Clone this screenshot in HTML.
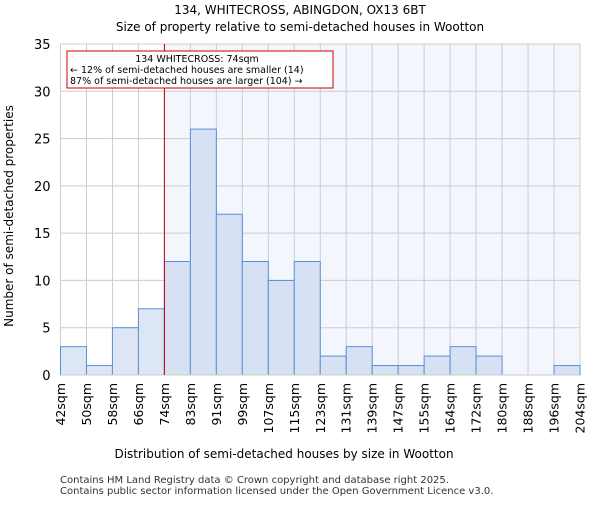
<!DOCTYPE html>
<html><head><meta charset="utf-8"><style>body{margin:0;background:#fff}svg{font-family:"DejaVu Sans","Liberation Sans",sans-serif}</style></head>
<body>
<svg id="c" width="600" height="500">
<text x="300" y="14" text-anchor="middle" font-size="12">134, WHITECROSS, ABINGDON, OX13 6BT</text>
<text x="300" y="31" text-anchor="middle" font-size="12">Size of property relative to semi-detached houses in Wootton</text>
<g id="plot"></g>
<text x="284" y="458" text-anchor="middle" font-size="12">Distribution of semi-detached houses by size in Wootton</text>
<text transform="translate(13,216) rotate(-90)" text-anchor="middle" font-size="12">Number of semi-detached properties</text>
<text x="60" y="483" font-size="10" fill="#333">Contains HM Land Registry data © Crown copyright and database right 2025.</text>
<text x="60" y="494" font-size="10" fill="#333">Contains public sector information licensed under the Open Government Licence v3.0.</text>
</svg>
<script>
const binLabels=["42sqm","50sqm","58sqm","66sqm","74sqm","83sqm","91sqm","99sqm","107sqm","115sqm","123sqm","131sqm","139sqm","147sqm","155sqm","164sqm","172sqm","180sqm","188sqm","196sqm","204sqm"];
const counts=[3,1,5,7,12,26,17,12,10,12,2,3,1,1,2,3,2,0,0,1];
const yTicks=[0,5,10,15,20,25,30,35];
const markerBin=4;
const L=60.5,R=580,T=44,B=375,yMax=35;
const NS="http://www.w3.org/2000/svg";
const g=document.getElementById('plot');
const bw=(R-L)/counts.length;
const x=i=>L+i*bw, y=v=>B-v/yMax*(B-T);
function el(t,a,txt){const e=document.createElementNS(NS,t);for(const k in a)e.setAttribute(k,a[k]);if(txt!=null)e.textContent=txt;g.appendChild(e);return e;}
let e=el('rect',{x:x(markerBin),y:T,width:R-x(markerBin),height:B-T,fill:'#f3f6fd'});


yTicks.forEach(v=>{let l=el('line',{x1:L,x2:R,y1:y(v),y2:y(v),stroke:'#ccc'});


let t=el('text',{x:L-10,y:y(v)+5,'text-anchor':'end','font-size':13},v);

});
binLabels.forEach((s,i)=>{let l=el('line',{x1:x(i),x2:x(i),y1:T,y2:B,stroke:'#ccc'});


let t=el('text',{transform:`translate(${x(i)+4.5},383) rotate(-90)`,'text-anchor':'end','font-size':12.5},s);

});
counts.forEach((v,i)=>{if(v<=0)return;let r=el('rect',{x:x(i),y:y(v),width:bw,height:B-y(v),fill:i<markerBin?'#dde6f4':'#d6e1f4',stroke:'#5b8fd6','stroke-width':1});

});
let ax=el('line',{x1:L,x2:R,y1:B,y2:B,stroke:'#ccc'});


let m=el('line',{x1:x(markerBin),x2:x(markerBin),y1:T,y2:B,stroke:'#c00','stroke-width':1});


let bx=el('rect',{x:67,y:51,width:266,height:37,fill:'#fff',stroke:'#c00'});


[["134 WHITECROSS: 74sqm",62,197,'middle'],["← 12% of semi-detached houses are smaller (14)",73,70,'start'],["87% of semi-detached houses are larger (104) →",84,70,'start']].forEach(([s,yy,xx,an])=>{let t=el('text',{x:xx,y:yy,'text-anchor':an,'font-size':9.5},s);

});
</script>
</body></html>
